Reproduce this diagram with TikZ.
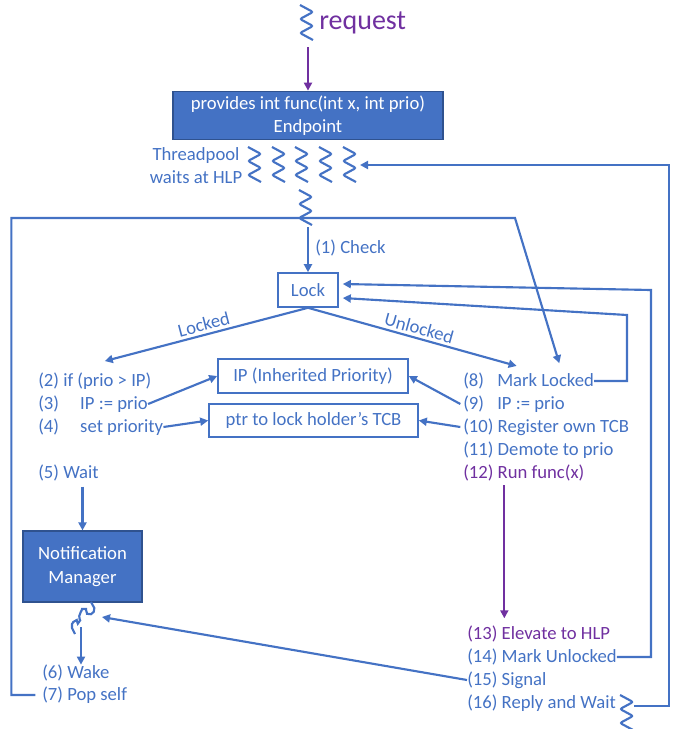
\documentclass[tikz,border=0pt]{standalone}
\usepackage{fontspec}
\setmainfont{Carlito}
\usetikzlibrary{arrows.meta,positioning,calc}
\definecolor{ink}{HTML}{4472C4}
\definecolor{inkdark}{HTML}{2F528F}
\definecolor{plum}{HTML}{7030A0}
\newcommand{\stepnum}[2][25.5pt]{\makebox[#1][l]{#2}}

\begin{document}
\begin{tikzpicture}[
  x=0.75pt, y=-0.75pt,
  font=\fontsize{14}{17.25}\selectfont, >={Triangle[length=6pt,width=6pt]},
  every node/.append style={text=ink},
  txt/.style={anchor=west, inner sep=0pt},
  blbox/.style={draw=inkdark, fill=ink, text=white, align=center, line width=0.9pt},
  lnbox/.style={draw=ink, line width=1.2pt, inner sep=0pt},
  flow/.style={->, draw=ink, line width=1.6pt},
  flowp/.style={->, draw=plum, line width=1.6pt},
  wire/.style={draw=ink, line width=1.6pt, rounded corners=1.5pt},
  thread/.pic={\draw[wire, pic actions] (-6,0) -- (7,7) -- (-6,14) -- (7,21) -- (-6,28) -- (7,35);},
]
\useasboundingbox (0,0) rectangle (678,729);
% --- request enters the endpoint ---
\pic[draw=plum] at (306,5) {thread};
\node[text=plum, font=\fontsize{21}{25}\selectfont, anchor=west, inner sep=0pt] (req) at (319,23) {request};
\coordinate (rq) at (308,47);
\node[blbox, minimum width=202.5pt, minimum height=35.25pt] (ep) at (308,115.5) {provides int func(int x, int prio)\\Endpoint};
\draw[flowp] (rq) -- (ep.north);
% --- thread pool ---
\node[align=center, inner sep=0pt] (tp) at (196,166) {Threadpool\\waits at HLP};
\foreach \x in {254,278,301,325,349}
  \pic at (\x,147) {thread};
\coordinate (tp5) at (360,165);
\pic at (305,190) {thread};
\coordinate (t0) at (308,227);
% --- lock and shared fields ---
\node[lnbox, minimum width=45pt, minimum height=25.5pt] (lock) at (308,290) {Lock};
\node[txt] (check) at (315,248) {(1) Check};
\draw[flow] (t0) -- (lock.north);
\node[lnbox, minimum width=142.5pt, minimum height=25.5pt] (ip) at (313,376) {IP (Inherited Priority)};
\node[lnbox, minimum width=156.75pt, minimum height=24.75pt] (tcb) at (313.5,420.5) {ptr to lock holder’s TCB};
% --- locked branch ---
\node[txt] (s2) at (38,381) {(2) if (prio > IP)};
\node[txt] (s3) at (38,404) {\stepnum[31.5pt]{(3)}IP := prio};
\node[txt] (s4) at (38,427) {\stepnum[31.5pt]{(4)}set priority};
\node[txt] (s5) at (38,473) {(5) Wait};
\node[blbox, minimum width=89.25pt, minimum height=53.25pt, font=\fontsize{14}{18.5}\selectfont] (nm) at (82.5,566.5) {Notification\\Manager};
\node[txt] (s6) at (42,673) {(6) Wake};
\node[txt] (s7) at (42,695) {(7) Pop self};
% --- unlocked branch ---
\node[txt] (s8) at (463,381) {\stepnum{(8)}Mark Locked};
\node[txt] (s9) at (463,404) {\stepnum{(9)}IP := prio};
\node[txt] (s10) at (463,427) {(10) Register own TCB};
\node[txt] (s11) at (463,450) {(11) Demote to prio};
\node[txt, text=plum] (s12) at (463,473) {(12) Run func(x)};
\node[txt, text=plum] (s13) at (467,634) {(13) Elevate to HLP};
\node[txt] (s14) at (467,657) {(14) Mark Unlocked};
\node[txt] (s15) at (467,680) {(15) Signal};
\node[txt] (s16) at (467,703) {(16) Reply and Wait};
% --- branches out of the lock ---
\draw[flow] (lock.south) -- node[sloped, above, inner sep=2pt] (lkd) {Locked} ([xshift=7.5pt,yshift=8.5pt]s2.north);
\draw[flow] (lock.south) -- node[sloped, above, inner sep=2pt, pos=0.52] (ulk) {Unlocked} ([xshift=-9pt,yshift=5pt]s8.north);
% field updates
\draw[flow] (s3.east) -- (ip.west);
\draw[flow] (s4.east) -- (tcb.west);
\draw[flow] ([xshift=-2pt]s9.west) -- (ip.east);
\draw[flow] ([xshift=-2pt]s10.west) -- (tcb.east);
% --- waiting on the notification manager ---
\draw[flow] ([yshift=-4pt]nm.north |- s5.south) -- (nm.north);
\draw[wire] plot[smooth, tension=0.6] coordinates {(91,602) (94,610) (89,614) (84,609) (80,614) (79,622) (75,621) (72,626) (75,634)};
\coordinate (nmtail) at (81,627);
\coordinate (wk) at (102,617);
\draw[flow] (nmtail) -- (nmtail |- s6.north);
\draw[flow] (s15.west) -- (wk);
% back to the lock from the wakeup
\draw[flow] ([xshift=-5pt]s7.west) -- ++(-24,0) |- (515,218) -- ([xshift=23pt,yshift=7pt]s8.north);
% --- marking the lock ---
\draw[flow] (s8.east) -| (627,315) -- ([xshift=3pt,yshift=-6pt]lock.east);
\draw[flow] (s14.east) -| (651,290) -- ([xshift=3pt,yshift=4.5pt]lock.east);
\draw[flowp] ([xshift=31pt,yshift=-3pt]s12.south west) -- ([xshift=28pt,yshift=5.5pt]s13.north west);
% --- reply and return to the pool ---
\pic at ($(s16.east)+(10,-8)$) {thread};
\coordinate (rw) at ($(s16.east)+(18,3)$);
\draw[flow] (rw) -| (669,165) -- (tp5);
\end{tikzpicture}
\end{document}
